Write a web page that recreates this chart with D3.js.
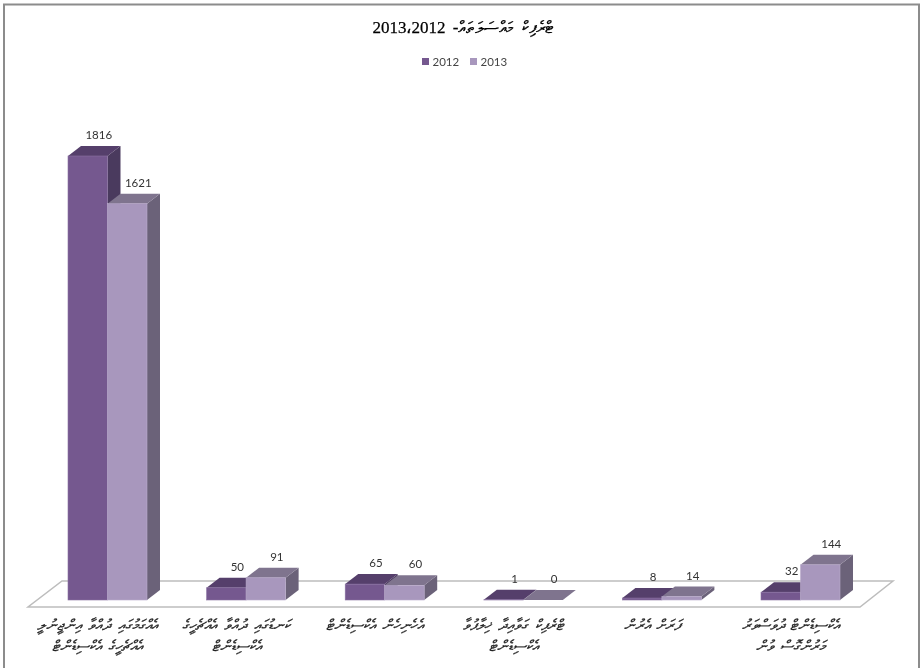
<!DOCTYPE html>
<html>
<head>
<meta charset="utf-8">
<script src="https://cdn.jsdelivr.net/npm/d3@7"></script>
<style>
html, body { margin: 0; padding: 0; background: #fff; }
svg { display: block; filter: blur(0.35px); }
</style>
</head>
<body>
<svg></svg>
<script>
// Chart data
const categories = [
    ["އެއްގަމުގައި ދުއްވާ އިންޖީނުލީ", "އެއްޗެހީގެ އެކްސިޑެންޓް"],
    ["ކަނޑުގައި ދުއްވާ އެއްޗެހީގެ", "އެކްސިޑެންޓް"],
    ["އެހެނިހެން އެކްސިޑެންޓް"],
    ["ޓްރެފިކް ގަވާއިދާ ޚިލާފުވާ", "އެކްސިޑެންޓް"],
    ["ފަރަށް އެރުން"],
    ["އެކްސިޑެންޓް ދުވަސްވަރު", "މަރުންގޮސް ވުން"]
];
const seriesNames = ["2012", "2013"];
const values2012 = [1816, 50, 65, 1, 8, 32];
const values2013 = [1621, 91, 60, 0, 14, 144];
// RLM keeps the comma from joining the two years into one number
const titleText = "ޓްރެފިކް މައްސަލަތައް- 2012\u060C\u200F2013";

const svgWidth = 921;
const svgHeight = 668;

const svg = d3.select("svg")
    .attr("width", svgWidth)
    .attr("height", svgHeight);

// Frame, bottom edge runs off the picture
svg.append("rect")
    .attr("x", 4).attr("y", 4.5)
    .attr("width", 915).attr("height", 680)
    .attr("fill", "#fff")
    .attr("stroke", "#8c8c8c")
    .attr("stroke-width", 2);

// Scales
const baseY = 600;
const depthX = 13;
const depthY = 10;
const x0 = d3.scaleBand().domain(d3.range(categories.length)).range([8.4, 899.6]).padding(0.43);
const x1 = d3.scaleBand().domain(seriesNames).range([0, x0.bandwidth()]);
const y = d3.scaleLinear().domain([0, 1816]).range([baseY, 156]);

// Floor
svg.append("polygon")
    .attr("points", [[28, 607], [860, 607], [893, 581], [62, 581]].map(p => p.join(",")).join(" "))
    .attr("fill", "#fff")
    .attr("stroke", "#bdbdbd")
    .attr("stroke-width", 1.5);

const colors = {
    "2012": { front: "#75588f", top: "#553f6b", side: "#4a3a5e", edge: "#8a72a2" },
    "2013": { front: "#a897bd", top: "#7f748e", side: "#6b6279", edge: "#b9abcb" }
};

// One 3D bar
function drawBar(x, w, value, c) {
    const yTop = y(value);
    const g = svg.append("g");
    g.append("polygon")
        .attr("points", [[x + w, baseY], [x + w + depthX, baseY - depthY], [x + w + depthX, yTop - depthY], [x + w, yTop]].map(p => p.join(",")).join(" "))
        .attr("fill", c.side);
    g.append("polygon")
        .attr("points", [[x, yTop], [x + depthX, yTop - depthY], [x + w + depthX, yTop - depthY], [x + w, yTop]].map(p => p.join(",")).join(" "))
        .attr("fill", c.top);
    g.append("rect")
        .attr("x", x).attr("y", yTop)
        .attr("width", w).attr("height", baseY - yTop)
        .attr("fill", c.front)
        .attr("stroke", c.edge)
        .attr("stroke-width", 0.6);
    svg.append("text")
        .attr("x", x + w / 2 + depthX - 2)
        .attr("y", yTop - depthY - 7)
        .attr("text-anchor", "middle")
        .attr("font-family", "Lato")
        .attr("font-size", "11.5px")
        .attr("fill", "#333")
        .text(value);
}

// Draw 2012 first, then 2013 in front of its side face
categories.forEach((c, i) => {
    drawBar(x0(i), x1.bandwidth(), values2012[i], colors["2012"]);
    drawBar(x0(i) + x1.bandwidth(), x1.bandwidth(), values2013[i], colors["2013"]);
});

// Category labels sit a bit left of the bars, like the original
categories.forEach((lines, i) => {
    lines.forEach((line, j) => {
        svg.append("text")
            .attr("x", x0(i) + x0.bandwidth() / 2 - 10)
            .attr("y", 630 + j * 21)
            .attr("text-anchor", "middle")
            .attr("direction", "rtl")
            .attr("font-family", "'Liberation Serif', serif")
            .attr("font-style", "italic")
            .attr("font-size", "15px")
            .attr("word-spacing", "3px")
            .attr("fill", "#222")
            .attr("stroke", "#222")
            .attr("stroke-width", 0.25)
            .text(line);
    });
});

// Title
svg.append("text")
    .attr("x", 463).attr("y", 33)
    .attr("text-anchor", "middle")
    .attr("direction", "rtl")
    .attr("font-family", "'Liberation Serif', serif")
    .attr("font-size", "17px")
    .attr("word-spacing", "3px")
    .attr("fill", "#000")
    .attr("stroke", "#000")
    .attr("stroke-width", 0.25)
    .text(titleText);

// Legend
const legendX = d3.scaleOrdinal().domain(seriesNames).range([422, 470]);
seriesNames.forEach(name => {
    svg.append("rect")
        .attr("x", legendX(name)).attr("y", 58)
        .attr("width", 7).attr("height", 7)
        .attr("fill", colors[name].front);
    svg.append("text")
        .attr("x", legendX(name) + 10.5).attr("y", 65.5)
        .attr("font-family", "Lato")
        .attr("font-size", "11.5px")
        .attr("fill", "#444")
        .text(name);
});
</script>
</body>
</html>
